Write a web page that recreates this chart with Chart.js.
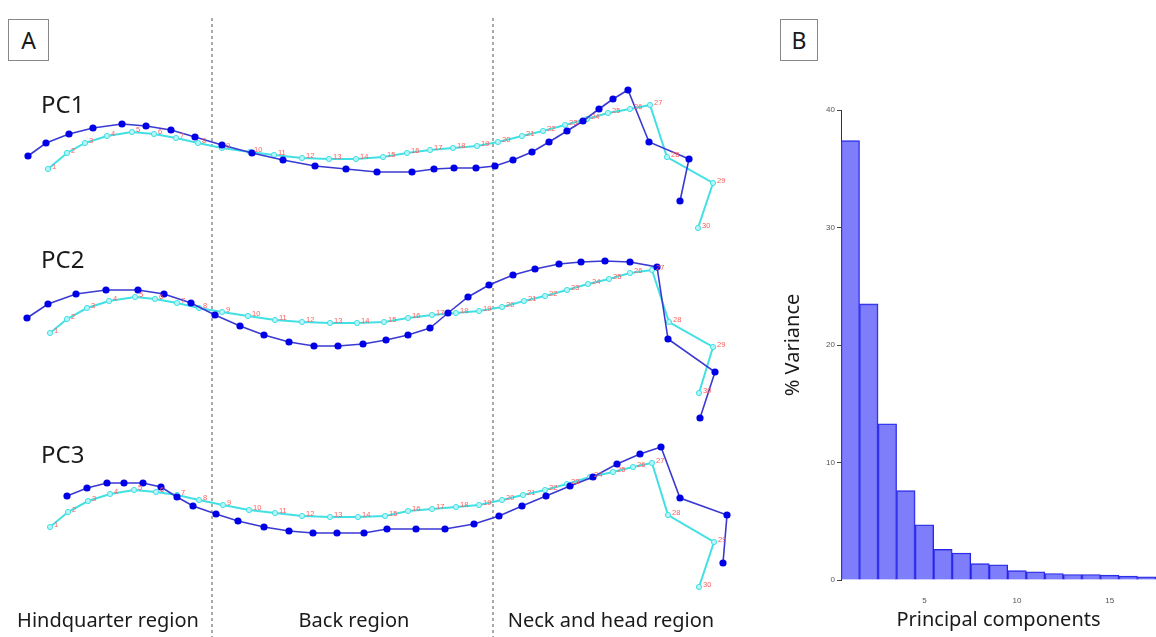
<!DOCTYPE html>
<html lang="en">
<head>
  <meta charset="UTF-8">
  <title>Landmark shapes and PCA variance</title>
  <script src="https://cdn.jsdelivr.net/npm/chart.js"></script>
  <style>
    body {
      margin: 0;
      width: 1156px;
      height: 637px;
      overflow: hidden;
      background: #fff;
      font-family: 'Noto Sans', sans-serif;
      color: #1a1a1a;
      position: relative;
    }
    .panel { position: absolute; top: 0; height: 637px; }
    #panelA { left: 0; width: 770px; }
    #panelB { left: 770px; width: 386px; }
    .tag {
      position: absolute;
      top: 19px;
      height: 40px;
      border: 1px solid #888;
      font-size: 23px;
      line-height: 40px;
      text-align: center;
      background: #fff;
    }
    .pc {
      position: absolute;
      left: 41px;
      font-size: 24px;
      line-height: 24px;
    }
    .region {
      position: absolute;
      top: 606px;
      width: 260px;
      margin-left: -130px;
      font-size: 20px;
      line-height: 28px;
      text-align: center;
    }
  </style>
</head>
<body>
  <div class="panel" id="panelA"><canvas id="shapeChart" width="770" height="637"></canvas></div>
  <div class="panel" id="panelB"><canvas id="varianceChart" width="386" height="637"></canvas></div>

  <div class="tag" style="left:8px;width:39px">A</div>
  <div class="tag" style="left:780px;width:36px">B</div>

  <div class="pc" style="top:92px">PC1</div>
  <div class="pc" style="top:247px">PC2</div>
  <div class="pc" style="top:442px">PC3</div>

  <div class="region" style="left:108px">Hindquarter region</div>
  <div class="region" style="left:354px">Back region</div>
  <div class="region" style="left:611px">Neck and head region</div>

  <script>
    // landmarks 1..30, mean shape (cyan) and PC extreme (blue), in figure units
    const pc1Mean = [[48,169],[67,153],[85,143],[107,136],[132,132],[154,134],[176,138],[198,143],[222,148],[250,152],[274,155],[302,158],[329,159],[356,159],[383,157],[407,153],[430,150],[453,148],[477,146],[498,142],[522,136],[543,131],[565,125],[587,119],[608,113],[630,109],[650,105],[667,157],[713,183],[698,228]];
    const pc1Shape = [[28,156],[46,143],[69,134],[93,128],[122,124],[146,126],[171,130],[195,137],[222,145],[252,153],[283,160],[315,166],[346,169],[377,172],[412,172],[434,169],[454,168],[476,168],[495,166],[513,160],[532,152],[549,142],[567,131],[583,121],[599,109],[613,99],[628,90],[649,142],[689,159],[680,201]];
    const pc2Mean = [[50,333],[67,319],[87,308],[109,301],[135,297],[155,299],[177,303],[199,308],[222,312],[248,316],[275,320],[302,322],[330,323],[357,323],[384,322],[408,318],[432,315],[456,313],[479,311],[502,307],[524,301],[545,296],[567,290],[588,284],[609,279],[630,273],[652,270],[669,322],[713,347],[699,393]];
    const pc2Shape = [[27,318],[48,304],[76,294],[106,290],[138,290],[164,294],[191,303],[215,315],[240,326],[264,335],[289,342],[314,346],[338,346],[363,344],[386,340],[408,335],[430,328],[448,313],[468,297],[489,285],[513,275],[535,269],[559,264],[581,262],[605,261],[630,262],[657,267],[668,339],[715,372],[700,418]];
    const pc3Mean = [[50,527],[68,512],[88,501],[110,494],[134,490],[156,492],[177,495],[199,500],[223,505],[249,510],[275,513],[302,516],[330,517],[358,517],[385,516],[408,511],[432,509],[456,507],[479,505],[502,500],[523,495],[545,490],[567,484],[590,477],[613,472],[633,467],[652,463],[668,515],[714,542],[699,587]];
    const pc3Shape = [[67,496],[87,488],[107,483],[124,483],[143,483],[161,487],[177,497],[193,506],[216,514],[238,521],[264,527],[289,531],[313,533],[337,533],[364,533],[387,529],[416,529],[445,529],[474,524],[499,516],[522,506],[546,496],[570,486],[593,477],[617,464],[640,454],[661,447],[680,498],[727,515],[723,563]];
    const regionBounds = [212, 493];

    // % variance per principal component
    const components = ['1','2','3','4','5','6','7','8','9','10','11','12','13','14','15','16','17'];
    const variance = [37.4, 23.5, 13.3, 7.6, 4.7, 2.6, 2.3, 1.4, 1.3, 0.8, 0.7, 0.55, 0.47, 0.47, 0.41, 0.33, 0.27];
    const varianceTicks = [0, 10, 20, 30, 40];

    const toXY = pts => pts.map(p => ({ x: p[0], y: p[1] }));

    function shapeSet(pts) {
      return {
        data: toXY(pts), showLine: true,
        borderColor: '#3a3ad2', borderWidth: 1.6,
        pointRadius: 2.8, pointBackgroundColor: '#0000e8', pointBorderColor: '#0000e8'
      };
    }
    function meanSet(pts) {
      return {
        data: toXY(pts), showLine: true, isMean: true,
        borderColor: '#42e0e4', borderWidth: 2,
        pointRadius: 2.6, pointBackgroundColor: '#b8f4f6', pointBorderColor: '#42e0e4', pointBorderWidth: 1
      };
    }
    function boundSet(x) {
      return {
        data: [{ x: x, y: 18 }, { x: x, y: 637 }], showLine: true,
        borderColor: '#555', borderWidth: 1, borderDash: [3, 3], pointRadius: 0
      };
    }

    // red landmark numbers beside the mean shape points
    const landmarkLabels = {
      id: 'landmarkLabels',
      afterDatasetsDraw(chart) {
        const ctx = chart.ctx;
        ctx.save();
        ctx.fillStyle = '#ff5c5c';
        ctx.font = '7.5px "Liberation Sans", sans-serif';
        ctx.textBaseline = 'middle';
        chart.data.datasets.forEach((ds, i) => {
          if (!ds.isMean) return;
          chart.getDatasetMeta(i).data.forEach((pt, j) => {
            ctx.fillText(String(j + 1), pt.x + 4, pt.y - 2);
          });
        });
        ctx.restore();
      }
    };

    new Chart(document.getElementById('shapeChart'), {
      type: 'scatter',
      data: {
        datasets: [
          shapeSet(pc1Shape), shapeSet(pc2Shape), shapeSet(pc3Shape),
          meanSet(pc1Mean), meanSet(pc2Mean), meanSet(pc3Mean),
          boundSet(regionBounds[0]), boundSet(regionBounds[1])
        ]
      },
      options: {
        responsive: false,
        animation: false,
        layout: { padding: 0, autoPadding: false },
        plugins: { legend: { display: false }, tooltip: { enabled: false } },
        scales: {
          x: { type: 'linear', min: 0, max: 770, display: false },
          y: { type: 'linear', min: 0, max: 637, reverse: true, display: false }
        }
      },
      plugins: [landmarkLabels]
    });

    new Chart(document.getElementById('varianceChart'), {
      type: 'bar',
      data: {
        labels: components,
        datasets: [{
          data: variance,
          backgroundColor: 'rgba(90, 90, 250, 0.78)',
          borderColor: '#2424e6',
          borderWidth: 1,
          barPercentage: 1,
          categoryPercentage: 1
        }]
      },
      options: {
        responsive: false,
        animation: false,
        layout: { padding: { top: 110, right: 0, bottom: 0, left: 0 } },
        plugins: { legend: { display: false }, tooltip: { enabled: false } },
        scales: {
          x: {
            grid: { display: false },
            border: { display: false },
            ticks: {
              autoSkip: false, maxRotation: 0, padding: 8,
              color: '#555', font: { size: 8, family: 'Liberation Sans' },
              callback: (v, i) => ((i + 1) % 5 === 0 ? components[i] : '')
            },
            title: {
              display: true, text: 'Principal components',
              color: '#1a1a1a', font: { size: 20, family: 'Noto Sans' },
              padding: { top: 0, bottom: 5 }
            },
            afterFit: s => { s.height = 57; }
          },
          y: {
            min: 0, max: 40,
            afterBuildTicks: s => { s.ticks = varianceTicks.map(v => ({ value: v })); },
            grid: { display: true, drawOnChartArea: false, drawTicks: true, tickLength: 4, color: '#444' },
            border: { display: true, color: '#333', width: 1 },
            ticks: { padding: 2, color: '#555', font: { size: 8, family: 'Liberation Sans' } },
            title: {
              display: true, text: '% Variance',
              color: '#1a1a1a', font: { size: 20, family: 'Noto Sans' },
              padding: { top: 11, bottom: 0 }
            },
            afterFit: s => { s.width = 71; }
          }
        }
      }
    });
  </script>
</body>
</html>
